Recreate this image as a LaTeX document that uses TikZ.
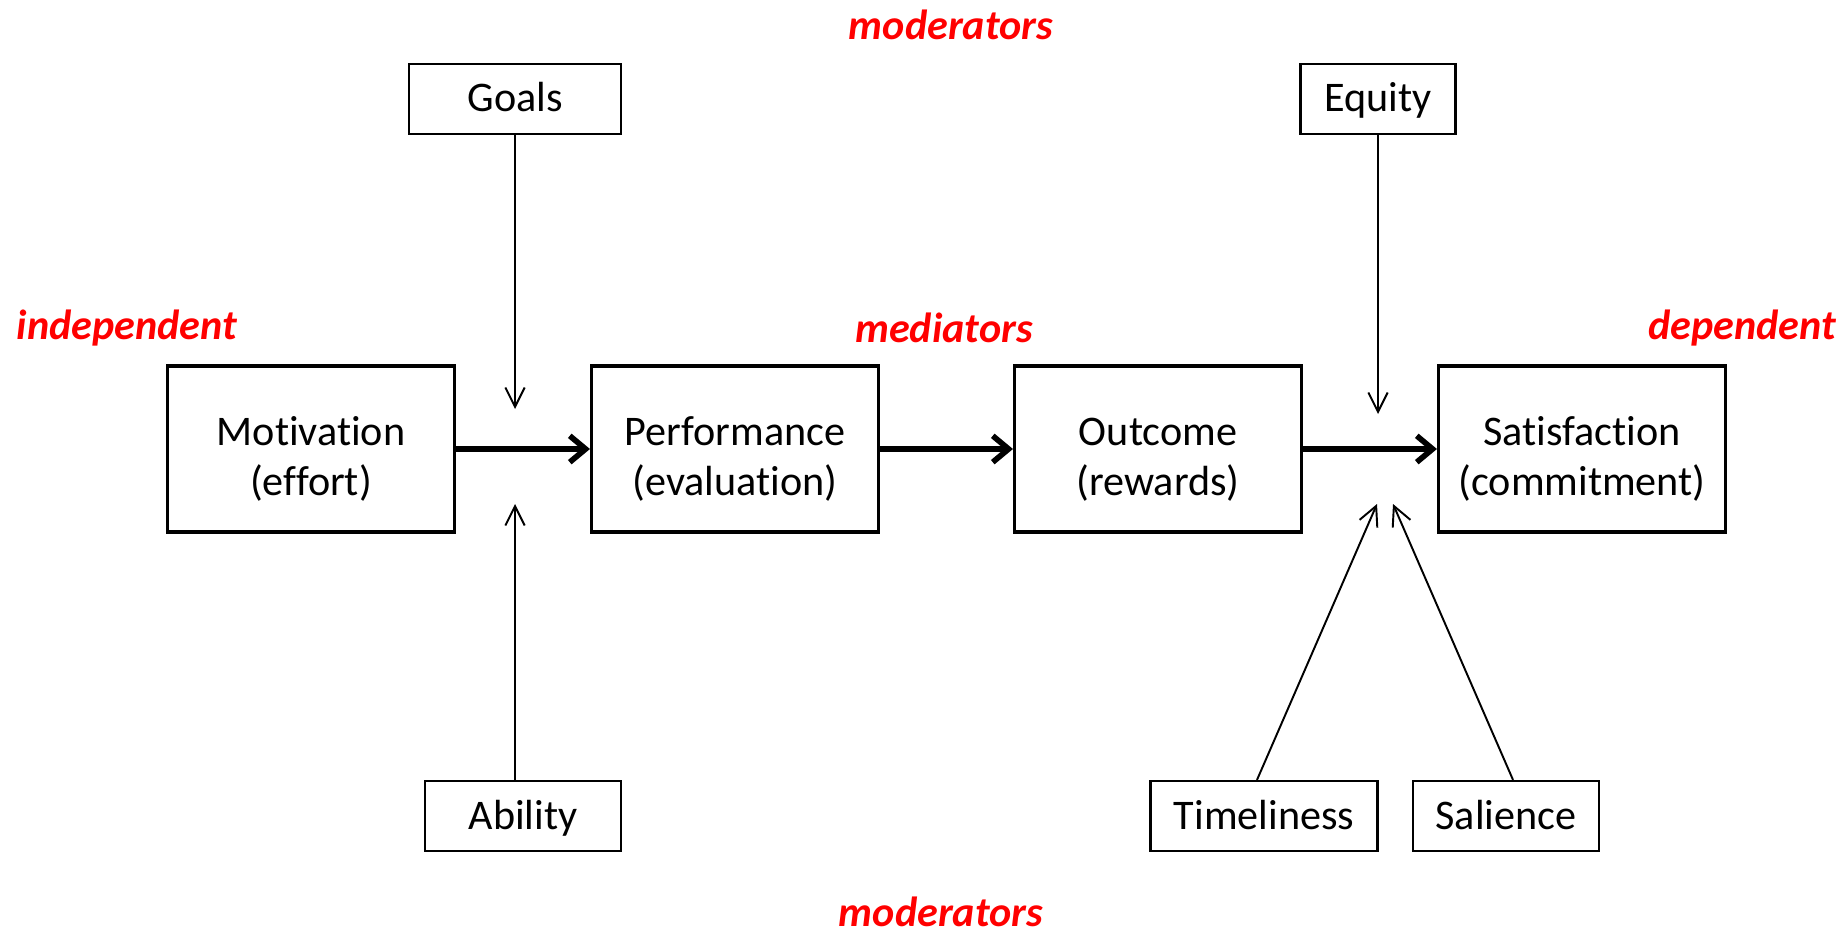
\documentclass[tikz,border=0pt]{standalone}
\usepackage{fontspec}
\setmainfont[Ligatures=NoCommon]{Carlito}
\usetikzlibrary{arrows.meta}
\newcommand{\boxstrut}{\rule{0pt}{0.98cm}}

\begin{document}
\begin{tikzpicture}[x=0.02cm, y=-0.02cm, >={Straight Barb[length=11pt,width=11pt]}]
  \definecolor{labelred}{RGB}{255,0,0}
  \tikzset{
    stagebox/.style={draw, line width=1.8pt, minimum width=5.74cm, minimum height=3.32cm,
      align=center, font=\fontsize{24}{28}\selectfont, inner sep=0pt},
    factorbox/.style={draw, line width=1.3pt, minimum height=1.4cm,
      text height=0.64cm, text depth=0.12cm,
      font=\fontsize{24}{28}\selectfont, inner sep=0pt},
    rolelabel/.style={text=labelred, font=\fontsize{24}{28}\selectfont\bfseries\itshape},
    mainarrow/.style={-{Straight Barb[length=9pt,width=15pt]}, line width=3.2pt},
    thinarrow/.style={->, line width=1.1pt}
  }
  \useasboundingbox (0,0) rectangle (1845,936);

  % main chain
  \node[stagebox] (mot) at (311,449) {\boxstrut Motivation\\(effort)};
  \node[stagebox] (perf) at (735,449) {\boxstrut Performance\\(evaluation)};
  \node[stagebox] (out) at (1158,449) {\boxstrut Outcome\\(rewards)};
  \node[stagebox] (sat) at (1582,449) {\boxstrut Satisfaction\\(commitment)};

  % moderators
  \node[factorbox, minimum width=4.24cm] (goals) at (515,99) {Goals};
  \node[factorbox, minimum width=3.92cm] (abil) at (523,816) {Ability};
  \node[factorbox, minimum width=3.10cm] (equity) at (1378,99) {Equity};
  \node[factorbox, minimum width=4.54cm] (time) at (1264,816) {Timeliness};
  \node[factorbox, minimum width=3.72cm] (sal) at (1506,816) {Salience};

  % labels
  \node[rolelabel] (modtop) at (951,25) {moderators};
  \node[rolelabel] (modbot) at (941,912) {moderators};
  \node[rolelabel] (indep) at (127,328) {independent};
  \node[rolelabel] (medi) at (944,328) {mediators};
  \node[rolelabel, anchor=east] (dep) at (1842,328) {dependent};

  \coordinate (gtip) at (515,409);
  \coordinate (atip) at (515,504);
  \coordinate (etip) at (1378,414);
  \coordinate (ttip) at (1377,504);
  \coordinate (stip) at (1393,504);

  \draw[mainarrow] (mot) -- (perf);
  \draw[mainarrow] (perf) -- (out);
  \draw[mainarrow] (out) -- (sat);

  \draw[thinarrow] (goals) -- (gtip);
  \draw[thinarrow] (abil.north -| atip) -- (atip);
  \draw[thinarrow] (equity) -- (etip);
  \draw[thinarrow] ([xshift=-0.14cm]time.north) -- (ttip);
  \draw[thinarrow] ([xshift=0.14cm]sal.north) -- (stip);

\end{tikzpicture}
\end{document}
